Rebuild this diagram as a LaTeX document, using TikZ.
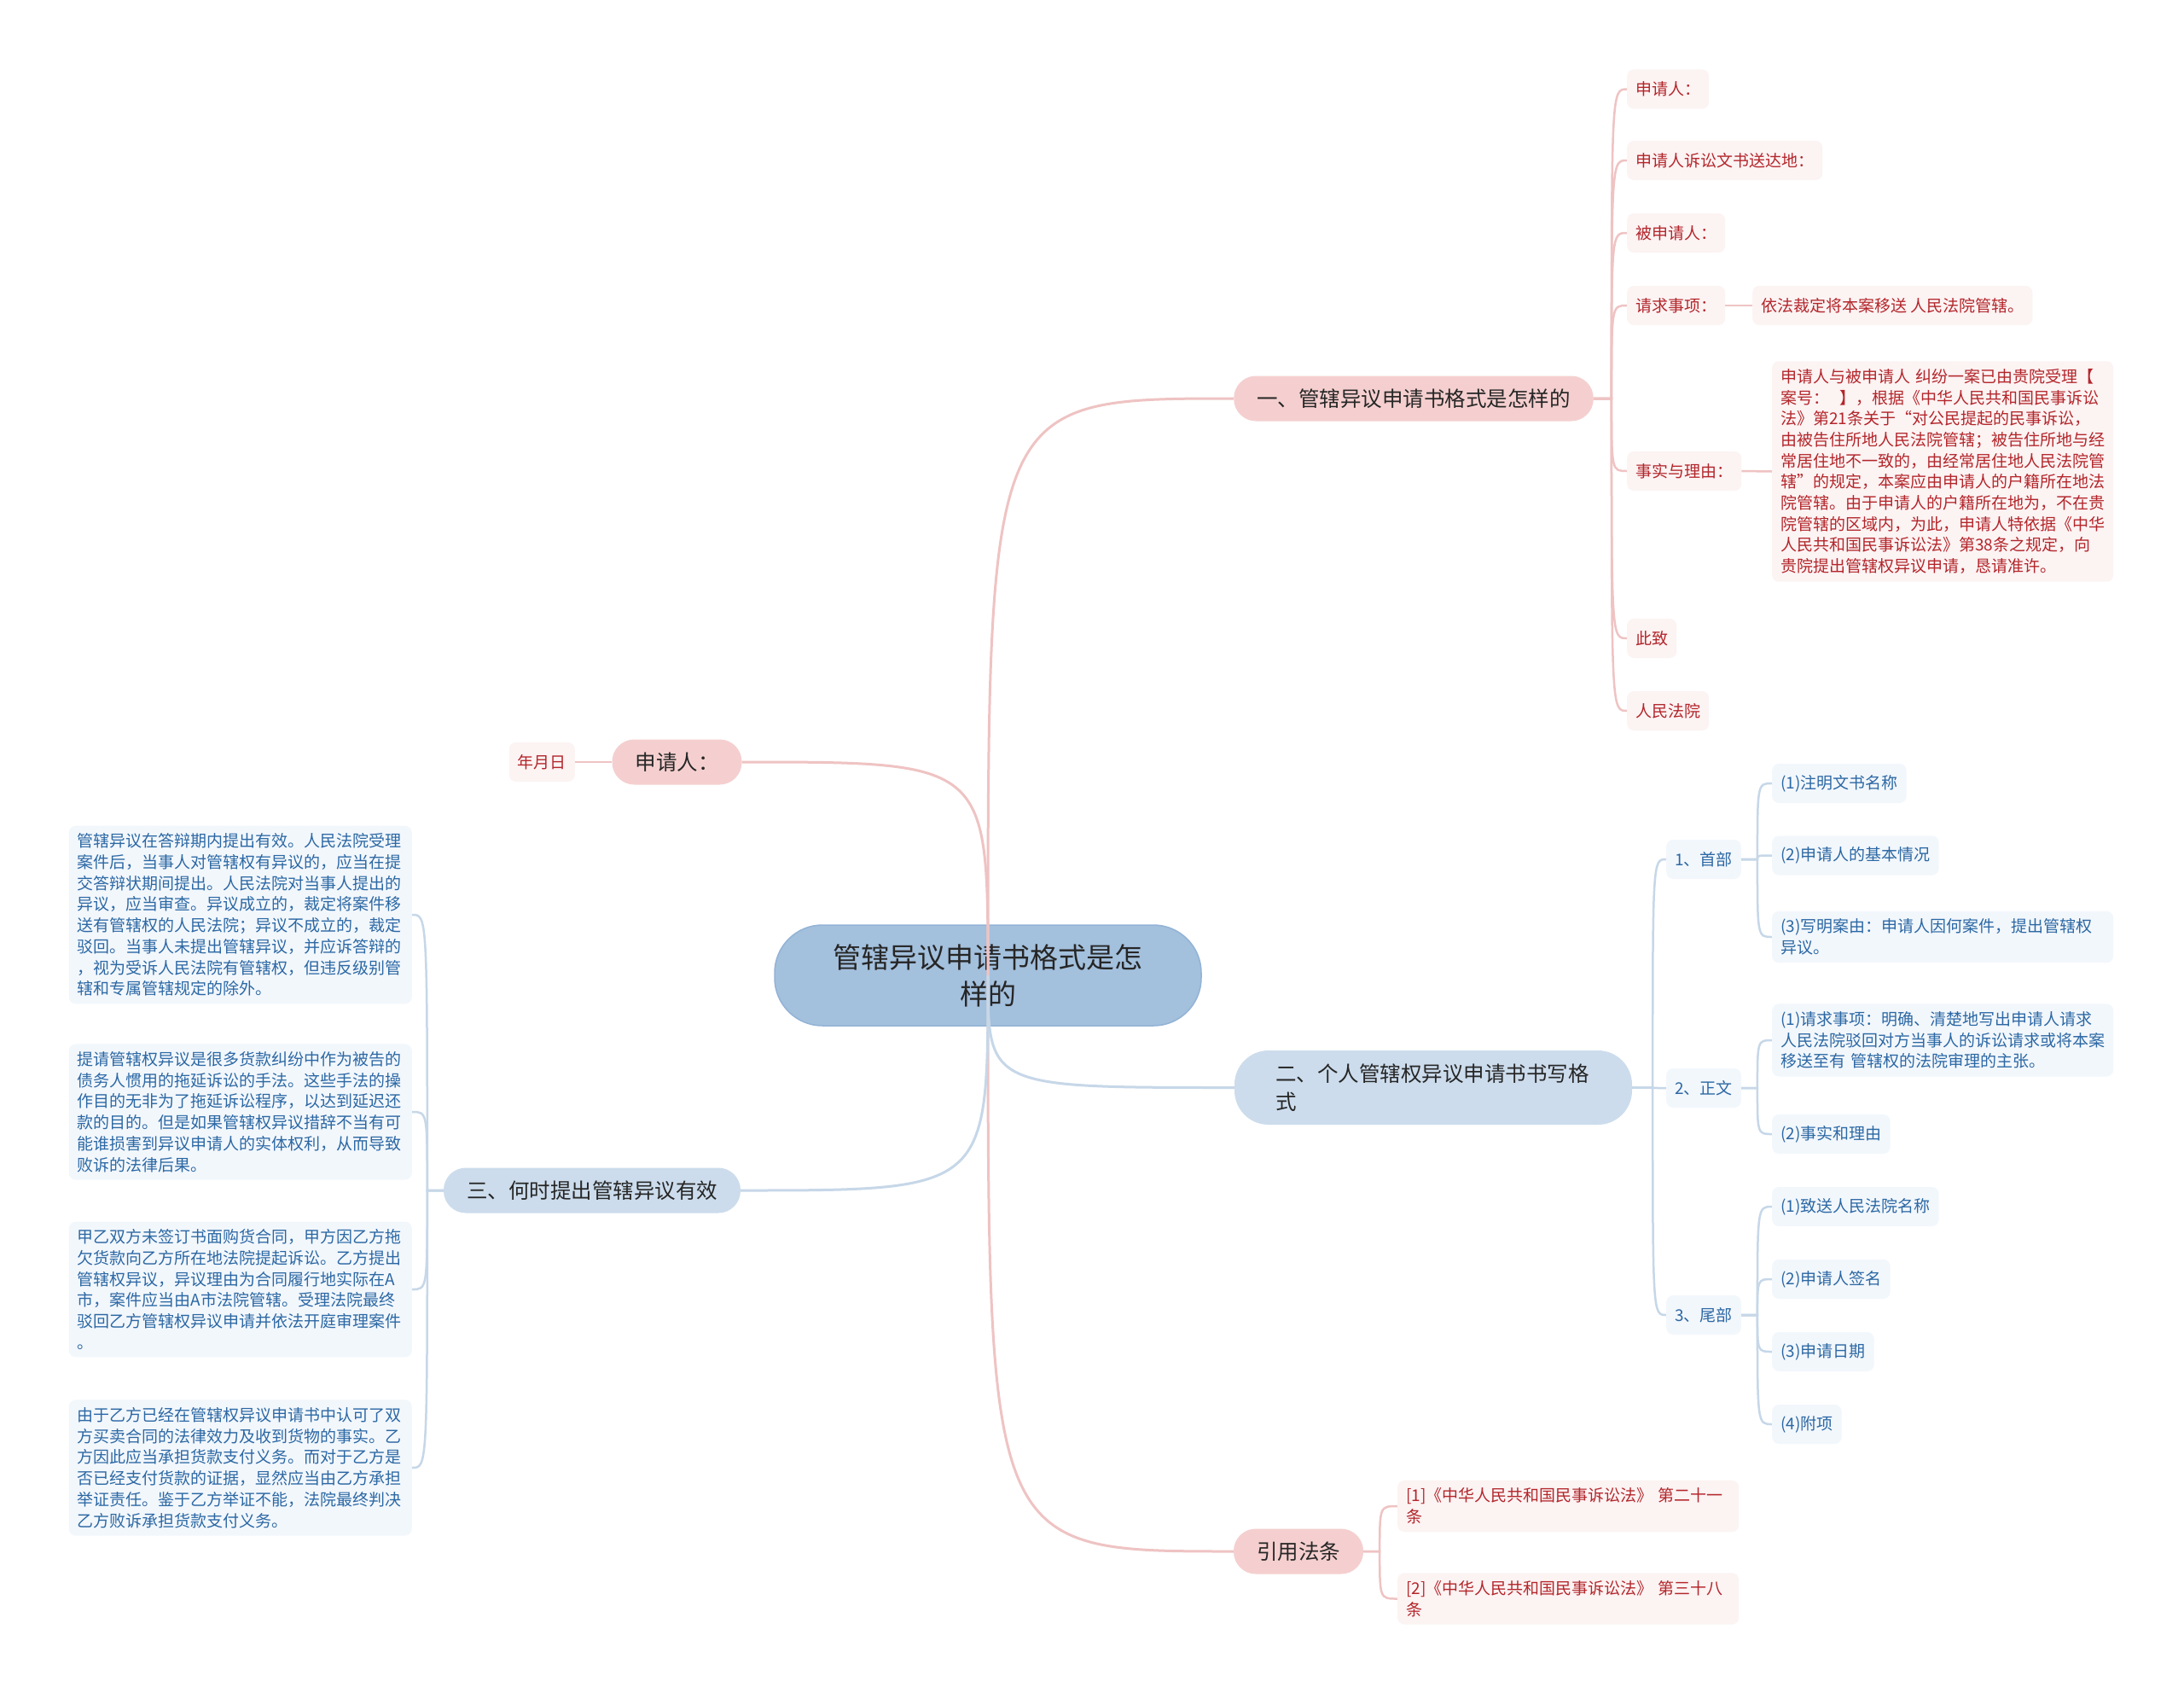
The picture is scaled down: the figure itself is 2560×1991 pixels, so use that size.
\documentclass[tikz,border=0pt]{standalone}
\usepackage{fontspec}
\setmainfont{Noto Sans CJK SC}
\usetikzlibrary{calc}
\definecolor{rootfill}{HTML}{A3C0DD}
\definecolor{rootdraw}{HTML}{93B3D6}
\definecolor{pinkfill}{HTML}{F5CFCF}
\definecolor{pinkleaf}{HTML}{FCF3F3}
\definecolor{pinktext}{HTML}{B3262B}
\definecolor{pinkline}{HTML}{EFC3C3}
\definecolor{bluefill}{HTML}{CCDCEC}
\definecolor{blueleaf}{HTML}{F2F7FC}
\definecolor{bluetext}{HTML}{2C68A4}
\definecolor{blueline}{HTML}{C6D7E8}
\definecolor{darktext}{HTML}{262626}
\pgfdeclarelayer{paper}
\pgfdeclarelayer{bg}
\pgfdeclarelayer{lines}
\pgfsetlayers{paper,bg,lines,main}
\tikzset{
  rootnode/.style={fill=rootfill, draw=rootdraw, line width=1.5pt, rounded corners=56pt,
    minimum width=500pt, minimum height=118pt, align=center,
    font=\fontsize{33}{43}\selectfont, text=darktext},
  pinkbranch/.style={fill=pinkfill, rounded corners=26pt, minimum height=53pt, inner xsep=27pt,
    font=\fontsize{24.5}{33}\selectfont, text=darktext, align=left},
  bluebranch/.style={fill=bluefill, rounded corners=26pt, minimum height=53pt, inner xsep=27pt,
    font=\fontsize{24.5}{33}\selectfont, text=darktext, align=left},
  pinkleafnode/.style={fill=pinkleaf, rounded corners=8pt, minimum height=46pt, inner xsep=10pt,
    inner ysep=9pt, font=\fontsize{19}{24.7}\selectfont, text=pinktext, align=left},
  blueleafnode/.style={fill=blueleaf, rounded corners=8pt, minimum height=46pt, inner xsep=10pt,
    inner ysep=9pt, font=\fontsize{19}{24.7}\selectfont, text=bluetext, align=left},
  mainpink/.style={draw=pinkline, line width=3pt},
  mainblue/.style={draw=blueline, line width=3pt},
  subpink/.style={draw=pinkline, line width=2.5pt},
  subblue/.style={draw=blueline, line width=2.5pt}
}
\begin{document}
\begin{tikzpicture}[x=1pt, y=-1pt]
\useasboundingbox (0,0) rectangle (2560,1991);
\begin{pgfonlayer}{paper}
\fill[white] (0,0) rectangle (2560,1991);
\end{pgfonlayer}

\begin{pgfonlayer}{bg}
\node[rootnode] (root) at (1158,1143) {管辖异议申请书格式是怎\\样的};
\end{pgfonlayer}

% main branches
\node[pinkbranch] (b1) at (1657,467) {一、管辖异议申请书格式是怎样的};
\node[pinkbranch] (ap) at (793.5,893) {申请人：};
\node[bluebranch, text width=370pt, inner xsep=48pt, minimum height=87pt, rounded corners=40pt] (b2) at (1680,1274.5) {二、个人管辖权异议申请书书写格\\式};
\node[bluebranch] (b3) at (694,1395) {三、何时提出管辖异议有效};
\node[pinkbranch] (yf) at (1522,1818) {引用法条};

% branch 1 leaves
\node[pinkleafnode, anchor=west] (p1) at (1907,104.5) {申请人：};
\node[pinkleafnode, anchor=west] (p2) at (1907,188) {申请人诉讼文书送达地：};
\node[pinkleafnode, anchor=west] (p3) at (1907,273) {被申请人：};
\node[pinkleafnode, anchor=west] (p4) at (1907,358) {请求事项：};
\node[pinkleafnode, anchor=west] (p4a) at (2054,358) {依法裁定将本案移送 人民法院管辖。};
\node[pinkleafnode, anchor=west] (p5) at (1907,552) {事实与理由：};
\node[pinkleafnode, anchor=west, text width=380pt] (p5a) at (2077,552.5) {申请人与被申请人 纠纷一案已由贵院受理【\\案号：\ \ 】，根据《中华人民共和国民事诉讼\\法》第21条关于“对公民提起的民事诉讼，\\由被告住所地人民法院管辖；被告住所地与经\\常居住地不一致的，由经常居住地人民法院管\\辖”的规定，本案应由申请人的户籍所在地法\\院管辖。由于申请人的户籍所在地为，不在贵\\院管辖的区域内，为此，申请人特依据《中华\\人民共和国民事诉讼法》第38条之规定，向\\贵院提出管辖权异议申请，恳请准许。};
\node[pinkleafnode, anchor=west] (p6) at (1907,748) {此致};
\node[pinkleafnode, anchor=west] (p7) at (1907,833) {人民法院};

% 申请人 leaf
\node[pinkleafnode, anchor=east] (nyr) at (674,893) {年月日};

% branch 2 leaves
\node[blueleafnode, anchor=west] (s1) at (1953,1007) {1、首部};
\node[blueleafnode, anchor=west] (s2) at (1953,1275) {2、正文};
\node[blueleafnode, anchor=west] (s3) at (1953,1541) {3、尾部};
\node[blueleafnode, anchor=west] (s11) at (2077,918) {(1)注明文书名称};
\node[blueleafnode, anchor=west] (s12) at (2077,1002.5) {(2)申请人的基本情况};
\node[blueleafnode, anchor=west, text width=380pt] (s13) at (2077,1098) {(3)写明案由：申请人因何案件，提出管辖权\\异议。};
\node[blueleafnode, anchor=west, text width=380pt] (s21) at (2077,1219) {(1)请求事项：明确、清楚地写出申请人请求\\人民法院驳回对方当事人的诉讼请求或将本案\\移送至有 管辖权的法院审理的主张。};
\node[blueleafnode, anchor=west] (s22) at (2077,1329) {(2)事实和理由};
\node[blueleafnode, anchor=west] (s31) at (2077,1414) {(1)致送人民法院名称};
\node[blueleafnode, anchor=west] (s32) at (2077,1499) {(2)申请人签名};
\node[blueleafnode, anchor=west] (s33) at (2077,1584) {(3)申请日期};
\node[blueleafnode, anchor=west] (s34) at (2077,1669) {(4)附项};

% branch 3 leaves
\node[blueleafnode, anchor=east, text width=382pt] (L1) at (483,1072) {管辖异议在答辩期内提出有效。人民法院受理\\案件后，当事人对管辖权有异议的，应当在提\\交答辩状期间提出。人民法院对当事人提出的\\异议，应当审查。异议成立的，裁定将案件移\\送有管辖权的人民法院；异议不成立的，裁定\\驳回。当事人未提出管辖异议，并应诉答辩的\\，视为受诉人民法院有管辖权，但违反级别管\\辖和专属管辖规定的除外。};
\node[blueleafnode, anchor=east, text width=382pt] (L2) at (483,1303) {提请管辖权异议是很多货款纠纷中作为被告的\\债务人惯用的拖延诉讼的手法。这些手法的操\\作目的无非为了拖延诉讼程序，以达到延迟还\\款的目的。但是如果管辖权异议措辞不当有可\\能谁损害到异议申请人的实体权利，从而导致\\败诉的法律后果。};
\node[blueleafnode, anchor=east, text width=382pt] (L3) at (483,1511) {甲乙双方未签订书面购货合同，甲方因乙方拖\\欠货款向乙方所在地法院提起诉讼。乙方提出\\管辖权异议，异议理由为合同履行地实际在A\\市，案件应当由A市法院管辖。受理法院最终\\驳回乙方管辖权异议申请并依法开庭审理案件\\。};
\node[blueleafnode, anchor=east, text width=382pt] (L4) at (483,1720) {由于乙方已经在管辖权异议申请书中认可了双\\方买卖合同的法律效力及收到货物的事实。乙\\方因此应当承担货款支付义务。而对于乙方是\\否已经支付货款的证据，显然应当由乙方承担\\举证责任。鉴于乙方举证不能，法院最终判决\\乙方败诉承担货款支付义务。};

% citations
\node[pinkleafnode, anchor=west, text width=380pt] (c1) at (1638,1765) {[1]《中华人民共和国民事诉讼法》 第二十一\\条};
\node[pinkleafnode, anchor=west, text width=380pt] (c2) at (1638,1873.5) {[2]《中华人民共和国民事诉讼法》 第三十八\\条};

% junctions
\coordinate (rc) at (root.center);
\coordinate (j1) at ($(b1.east)+(21,0)$);
\coordinate (j2) at ($(b2.east)+(24,0)$);
\coordinate (j21) at ($(s1.east)+(19,0)$);
\coordinate (j22) at ($(s2.east)+(19,0)$);
\coordinate (j23) at ($(s3.east)+(19,0)$);
\coordinate (j3) at ($(b3.west)+(-19,0)$);
\coordinate (jy) at ($(yf.east)+(19,0)$);

\begin{pgfonlayer}{lines}
% root connectors
\draw[mainpink] (rc) .. controls (rc |- b1.west) and (rc |- b1.west) .. (b1.west);
\draw[mainpink] (rc) .. controls (rc |- ap.east) and (rc |- ap.east) .. (ap.east);
\draw[mainpink] (rc) .. controls (rc |- yf.west) and (rc |- yf.west) .. (yf.west);
\draw[mainblue] (rc) .. controls (rc |- b2.west) and (rc |- b2.west) .. (b2.west);
\draw[mainblue] (rc) .. controls (rc |- b3.east) and (rc |- b3.east) .. (b3.east);

% branch 1
\foreach \n in {p1,p2,p3,p4,p5,p6,p7}{
  \draw[subpink] (b1.east) -- (j1) .. controls (j1 |- \n.west) and (j1 |- \n.west) .. (\n.west);
}
\draw[subpink] (p4.east) -- (p4a.west);
\draw[subpink] (p5.east) -- (p5a.west);
\draw[subpink] (ap.west) -- (nyr.east);

% branch 2
\foreach \n in {s1,s2,s3}{
  \draw[subblue] (b2.east) -- (j2) .. controls (j2 |- \n.west) and (j2 |- \n.west) .. (\n.west);
}
\foreach \n in {s11,s12,s13}{
  \draw[subblue] (s1.east) -- (j21) .. controls (j21 |- \n.west) and (j21 |- \n.west) .. (\n.west);
}
\foreach \n in {s21,s22}{
  \draw[subblue] (s2.east) -- (j22) .. controls (j22 |- \n.west) and (j22 |- \n.west) .. (\n.west);
}
\foreach \n in {s31,s32,s33,s34}{
  \draw[subblue] (s3.east) -- (j23) .. controls (j23 |- \n.west) and (j23 |- \n.west) .. (\n.west);
}

% branch 3
\foreach \n in {L1,L2,L3,L4}{
  \draw[subblue] (b3.west) -- (j3) .. controls (j3 |- \n.east) and (j3 |- \n.east) .. (\n.east);
}

% citations
\foreach \n in {c1,c2}{
  \draw[subpink] (yf.east) -- (jy) .. controls (jy |- \n.west) and (jy |- \n.west) .. (\n.west);
}
\end{pgfonlayer}
\end{tikzpicture}
\end{document}
